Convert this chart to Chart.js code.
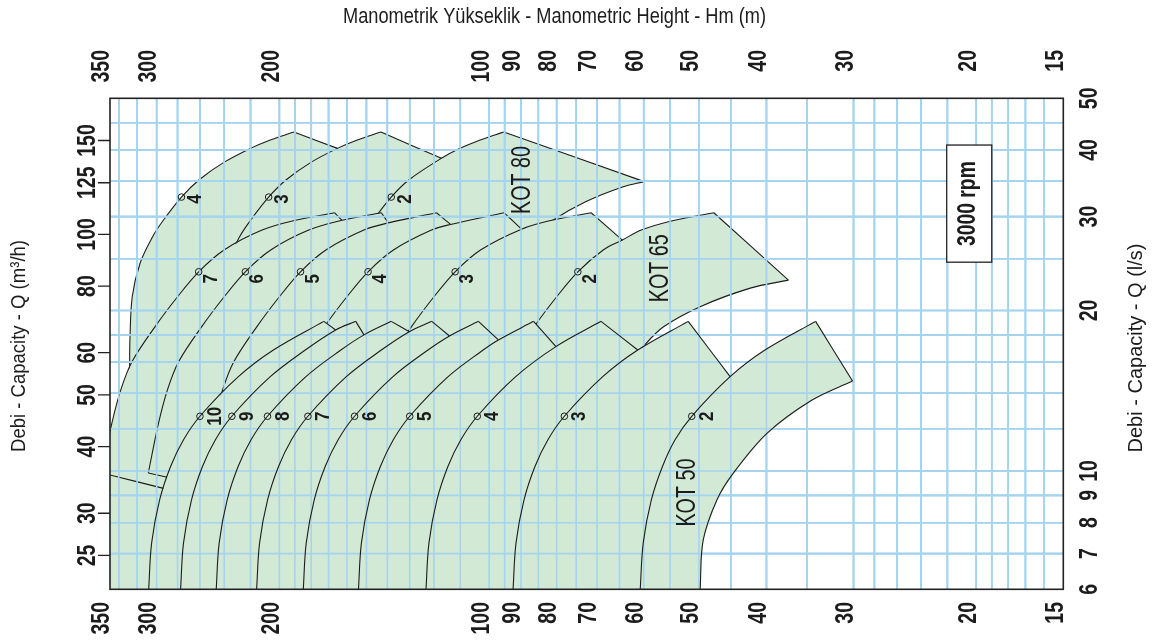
<!DOCTYPE html>
<html><head><meta charset="utf-8">
<script src="https://cdn.jsdelivr.net/npm/chart.js@4.4.1/dist/chart.umd.min.js"></script>
<style>html,body{margin:0;padding:0;background:#fff;}#wrap{width:1157px;height:644px;position:relative;}</style>
</head><body><div id="wrap"><canvas id="c"></canvas></div>
<script>
// ---------- axis values ----------
const H_LABELS = [350,300,200,100,90,80,70,60,50,40,30,20,15];          // Hm (m)
const Q_LABELS = [25,30,40,50,60,80,100,125,150];                       // Q (m3/h)
const LS_LABELS = [6,7,8,9,10,20,30,40,50];                             // Q (l/s)
const H_GRID = [16,17,18,19,20,22,24,26,28,30,35,40,45,50,55,60,65,70,75,80,85,90,95,100,110,120,130,140,150,160,170,180,190,200,220,240,260,280,300,320,340];
const LS_GRID = [7,8,9,10,12,14,16,18,20,25,30,35,40,45];

// ---------- KOT 50 : curves [H m, Q m3/h] ----------
const k50_c0 = [[49.8,21.6],[49.3,26.7],[47.1,31.8],[44.6,35.7],[39.9,42.4],[34.4,48.9],[30.1,53.1]];
const k50_2  = [[60.7,21.6],[60.1,26.4],[58.5,31.8],[56.4,36.7],[54.1,41.2],[51.2,45.6],[45.1,54.1],[40.2,60.7],[34.0,68.7]];
const k50_3  = [[92.4,21.6],[91.5,26.4],[89.1,31.8],[85.95,36.7],[82.35,41.2],[78.0,45.6],[68.7,54.1],[61.2,60.7],[51.8,68.7]];
const k50_4  = [[123.2,21.6],[122.0,26.4],[118.8,31.8],[114.6,36.7],[109.8,41.2],[104.0,45.6],[91.6,54.1],[80.2,61.6],[69.1,68.7]];
const k50_5  = [[154.0,21.6],[152.5,26.4],[148.5,31.8],[143.25,36.7],[137.25,41.2],[130.0,45.6],[114.5,54.1],[102.0,60.7],[97.0,63.4],[86.35,68.7]];
const k50_6  = [[184.8,21.6],[183.0,26.4],[178.2,31.8],[171.9,36.7],[164.7,41.2],[156.0,45.6],[137.4,54.1],[122.4,60.7],[114.0,64.5],[103.6,68.7]];
const k50_7  = [[215.6,21.6],[213.5,26.4],[207.9,31.8],[200.55,36.7],[192.15,41.2],[182.0,45.6],[160.3,54.1],[142.8,60.7],[130.2,65.7],[120.9,68.7]];
const k50_8  = [[246.4,21.6],[244.0,26.4],[237.6,31.8],[229.2,36.7],[219.6,41.2],[208.0,45.6],[183.2,54.1],[163.2,60.7],[151.2,64.8],[138.2,68.7]];
const k50_9  = [[277.2,21.6],[274.5,26.4],[267.3,31.8],[257.85,36.7],[247.05,41.2],[234.0,45.6],[206.1,54.1],[183.6,60.7],[166.05,66.2],[155.4,68.7]];
const k50_10 = [[308.0,21.6],[305.0,26.4],[297.0,31.8],[286.5,36.7],[274.5,41.2],[260.0,45.6],[229.0,54.1],[204.0,60.7],[172.7,68.7]];
const k50_max = [[[34.0,68.7],[30.1,53.1]],[[51.8,68.7],[45.1,54.1]],[[69.1,68.7],[61.2,60.7]],[[86.35,68.7],[80.2,61.6]],[[103.6,68.7],[97.0,63.4]],[[120.9,68.7],[114.0,64.5]],[[138.2,68.7],[130.2,65.7]],[[155.4,68.7],[151.2,64.8]],[[172.7,68.7],[166.05,66.2]]];
const k50_markH = [51.2,78.0,104.0,130.0,156.0,182.0,208.0,234.0,260.0];
const k50_markQ = 45.6;
const k50_stages = ['2','3','4','5','6','7','8','9','10'];

// ---------- KOT 65 ----------
const k65_c0 = [[63.0,56.9],[60.1,61.6],[56.2,67.1],[49.8,73.2],[42.2,79.3],[37.2,82.1]];
const k65_2 = [[102.8,35.7],[99.4,44.2],[96.5,51.1],[93.0,57.7],[86.2,67.1],[80.0,76.4],[74.6,85.1],[68.6,93.5],[64.4,97.6],[60.5,101.9],[54.2,106.3],[47.6,109.8]];
const k65_3 = [[154.2,35.7],[149.1,44.2],[144.75,51.1],[139.5,57.7],[129.3,67.1],[120.0,76.4],[111.9,85.1],[102.9,93.5],[89.85,102.3],[81.3,106.3],[71.4,109.8]];
const k65_4 = [[205.6,35.7],[198.8,44.2],[193.0,51.1],[186.0,57.7],[172.4,67.1],[160.0,76.4],[149.2,85.1],[137.2,93.5],[121.0,101.9],[113.6,104.4],[95.2,109.8]];
const k65_5 = [[257.0,35.7],[248.5,44.2],[241.25,51.1],[232.5,57.7],[215.5,67.1],[200.0,76.4],[186.5,85.1],[171.5,93.5],[151.25,101.9],[139.5,105.1],[119.0,109.8]];
const k65_6 = [[308.4,35.7],[298.2,44.2],[289.5,51.1],[279.0,57.7],[258.6,67.1],[240.0,76.4],[223.8,85.1],[205.8,93.5],[181.5,101.9],[162.6,106.3],[142.8,109.8]];
const k65_7 = [[359.8,35.7],[347.9,44.2],[337.75,51.1],[325.5,57.7],[301.7,67.1],[280.0,76.4],[261.1,85.1],[240.1,93.5],[211.75,101.9],[189.7,106.3],[166.6,109.8]];
const k65_max = [[[47.6,109.8],[37.2,82.1]],[[71.4,109.8],[64.4,97.6]],[[95.2,109.8],[89.85,102.3]],[[119.0,109.8],[113.6,104.4]],[[142.8,109.8],[139.5,105.1]],[[166.6,109.8],[162.6,106.3]]];
const k65_min = [[[359.8,35.7],[280.0,32.9]],[[308.4,35.7],[270.0,34.3]]];
const k65_markH = [74.6,111.9,149.2,186.5,223.8,261.1];
const k65_markQ = 85.1;
const k65_stages = ['2','3','4','5','6','7'];

// ---------- KOT 80 ----------
const k80_c0 = [[89.0,96.4],[80.9,106.4],[72.6,115.3],[64.2,122.9],[59.9,125.6]];
const k80_2 = [[152.1,98.9],[146.6,106.4],[138.2,117.5],[130.4,126.5],[117.1,138.9],[110.1,145.0],[103.0,150.4],[95.3,155.6]];
const k80_3 = [[237.7,88.3],[228.2,98.9],[219.9,106.4],[207.2,117.5],[195.7,126.5],[180.2,136.5],[165.1,145.0],[154.6,150.4],[143.0,155.6]];
const k80_4 = [[328.0,51.0],[328.0,57.7],[327.7,63.4],[325.2,76.4],[316.9,88.3],[304.2,98.9],[293.3,106.4],[276.4,117.5],[260.9,126.5],[240.3,136.5],[220.1,145.0],[206.1,150.4],[190.6,155.6]];
const k80_max = [[[95.3,155.6],[59.9,125.6]],[[143.0,155.6],[117.1,138.9]],[[190.6,155.6],[165.1,145.0]]];
const k80_markH = [138.2,207.2,276.4];
const k80_markQ = 117.5;
const k80_stages = ['2','3','4'];

// ---------- styling ----------
const GREEN = '#d2e9d5', GRIDC = '#a4d4ee', INK = '#1c1c1c';
const FONT = '"Liberation Sans", Arial, Helvetica, sans-serif';

const toXY = a => a.map(p => ({x: p[0], y: p[1]}));
function outline(curves, lines, c0, extra) {
  const ends = lines.slice(1).reverse().map(l => l[1]);
  const pts = curves[0].slice();
  for (let i = 1; i < curves.length; i++) {
    const e = ends[i - 1];
    pts.push(e);
    curves[i].forEach(p => { if (p[1] > e[1]) pts.push(p); });
  }
  c0.slice().reverse().forEach(p => pts.push(p));
  (extra || []).forEach(p => pts.push(p));
  return pts;
}
const fillDS = (pts, order) => ({data: toXY(pts), isFill: true, fill: 'shape', backgroundColor: GREEN,
  borderColor: 'rgba(0,0,0,0)', borderWidth: 0, pointRadius: 0, tension: 0, order});
const lineDS = (pts, order) => ({data: toXY(pts), fill: false, borderColor: INK, borderWidth: 1.1,
  pointRadius: 0, tension: 0.35, order});

const datasets = [];
datasets.push(fillDS(outline([k80_4, k80_3, k80_2], k80_max, k80_c0), 70));
[k80_c0, k80_2, k80_3, k80_4].concat(k80_max).forEach(c => datasets.push(lineDS(c, 60)));
datasets.push(fillDS(outline([k65_7, k65_6, k65_5, k65_4, k65_3, k65_2], k65_max, k65_c0,
  [[k65_c0[0][0], 21.6], [400, 21.6]]), 50));
[k65_c0, k65_2, k65_3, k65_4, k65_5, k65_6, k65_7].concat(k65_max, k65_min).forEach(c => datasets.push(lineDS(c, 40)));
datasets.push(fillDS(outline([k50_10, k50_9, k50_8, k50_7, k50_6, k50_5, k50_4, k50_3, k50_2], k50_max, k50_c0), 30));
[k50_c0, k50_2, k50_3, k50_4, k50_5, k50_6, k50_7, k50_8, k50_9, k50_10].concat(k50_max).forEach(c => datasets.push(lineDS(c, 20)));
const markers = [].concat(
  k80_markH.map(h => [h, k80_markQ]), k65_markH.map(h => [h, k65_markQ]), k50_markH.map(h => [h, k50_markQ]));
datasets.push({data: toXY(markers), showLine: false, pointRadius: 3.3, pointBorderWidth: 1,
  pointBorderColor: INK, pointBackgroundColor: 'rgba(0,0,0,0)', order: 5});

function txt(ctx, s, x, y, o) {
  ctx.save(); ctx.translate(x, y); ctx.rotate(o.rot === undefined ? -Math.PI / 2 : o.rot);
  ctx.scale(o.sx || 1, 1); ctx.font = o.font; ctx.textAlign = o.align || 'center';
  ctx.textBaseline = o.base || 'middle'; ctx.fillStyle = o.color || INK;
  ctx.fillText(s, 0, 0); ctx.restore();
}
function txtFit(ctx, s, x, y, font, w, rot) {
  ctx.save(); ctx.font = font; const m = ctx.measureText(s).width; ctx.restore();
  txt(ctx, s, x, y, {font, rot, sx: w / m});
}
function drawGrid(chart) {
  const {ctx, chartArea: a, scales: {x, yls}} = chart;
  ctx.save(); ctx.beginPath(); ctx.rect(a.left, a.top, a.width, a.height); ctx.clip();
  ctx.strokeStyle = GRIDC; ctx.lineWidth = 1.6; ctx.beginPath();
  H_GRID.forEach(h => { const p = x.getPixelForValue(h); ctx.moveTo(p, a.top); ctx.lineTo(p, a.bottom); });
  LS_GRID.forEach(q => { const p = yls.getPixelForValue(q); ctx.moveTo(a.left, p); ctx.lineTo(a.right, p); });
  ctx.stroke(); ctx.restore();
}
const deco = {
  id: 'deco',
  beforeDraw(chart) { const c = chart.ctx; c.save(); c.fillStyle = '#fff'; c.fillRect(0, 0, chart.width, chart.height); c.restore(); },
  afterDatasetDraw(chart, args) { if (chart.data.datasets[args.index].isFill) drawGrid(chart); },
  afterDraw(chart) {
    const {ctx, chartArea: a, scales: {x, y, yls}} = chart;
    ctx.save(); ctx.strokeStyle = '#222'; ctx.lineWidth = 1.6; ctx.strokeRect(a.left, a.top, a.width, a.height);
    ctx.lineWidth = 1.3; ctx.beginPath();
    Q_LABELS.forEach(q => { const p = y.getPixelForValue(q); ctx.moveTo(a.left - 12, p); ctx.lineTo(a.left, p); });
    ctx.stroke(); ctx.restore();
    const tf = 'bold 26px ' + FONT;
    H_LABELS.forEach(h => {
      const p = x.getPixelForValue(h) - 7.8;
      txt(ctx, String(h), p, 50, {font: tf, align: 'right', sx: 0.75});
      txt(ctx, String(h), p, 602, {font: tf, align: 'right', sx: 0.75});
    });
    Q_LABELS.forEach(q => txt(ctx, String(q), 88, y.getPixelForValue(q), {font: tf, sx: 0.75}));
    LS_LABELS.forEach(q => txt(ctx, String(q), 1090, yls.getPixelForValue(q), {font: tf, sx: 0.75}));
    txtFit(ctx, 'Manometrik Yükseklik - Manometric Height - Hm (m)', 554.5, 17, '22px ' + FONT, 423, 0);
    txtFit(ctx, 'Debi - Capacity - Q (m³/h)', 19, 346, '20px ' + FONT, 212);
    txtFit(ctx, 'Debi - Capacity - Q (l/s)', 1136, 348, '20px ' + FONT, 209);
    const sf = 'bold 20px ' + FONT;
    [[k80_markH, k80_markQ, k80_stages, 14, 2], [k65_markH, k65_markQ, k65_stages, 12.5, 7], [k50_markH, k50_markQ, k50_stages, 15.5, 0]]
      .forEach(([hs, q, st, dx, dy]) => hs.forEach((h, i) =>
        txt(ctx, st[i], x.getPixelForValue(h) + dx, y.getPixelForValue(q) + dy, {font: sf, sx: 0.85})));
    const ff = '27px ' + FONT;
    [['KOT 80', 89.5, 126.5], ['KOT 65', 56.8, 86.4], ['KOT 50', 51.9, 32.8]].forEach(([s, h, q]) =>
      txtFit(ctx, s, x.getPixelForValue(h), y.getPixelForValue(q), ff, 68));
    const bx0 = x.getPixelForValue(22.05), bx1 = x.getPixelForValue(19.0);
    const by0 = y.getPixelForValue(147.1), by1 = y.getPixelForValue(88.7);
    ctx.save(); ctx.fillStyle = '#fff'; ctx.fillRect(bx0, by0, bx1 - bx0, by1 - by0);
    ctx.strokeStyle = '#222'; ctx.lineWidth = 1.3; ctx.strokeRect(bx0, by0, bx1 - bx0, by1 - by0); ctx.restore();
    txtFit(ctx, '3000 rpm', (bx0 + bx1) / 2 - 1, (by0 + by1) / 2, 'bold 25px ' + FONT, 85);
  }
};

new Chart(document.getElementById('c'), {
  type: 'line',
  data: {datasets},
  options: {
    responsive: true, maintainAspectRatio: false, animation: false, events: [],
    layout: {padding: {left: 110, right: 93.7, top: 98.3, bottom: 54.7}},
    plugins: {legend: {display: false}, tooltip: {enabled: false}},
    scales: {
      x: {type: 'logarithmic', min: 15, max: 350, reverse: true, display: false},
      y: {type: 'logarithmic', min: 21.6, max: 180, display: false},
      yls: {type: 'logarithmic', position: 'right', min: 6, max: 50, display: false}
    }
  },
  plugins: [deco]
});
</script></body></html>
